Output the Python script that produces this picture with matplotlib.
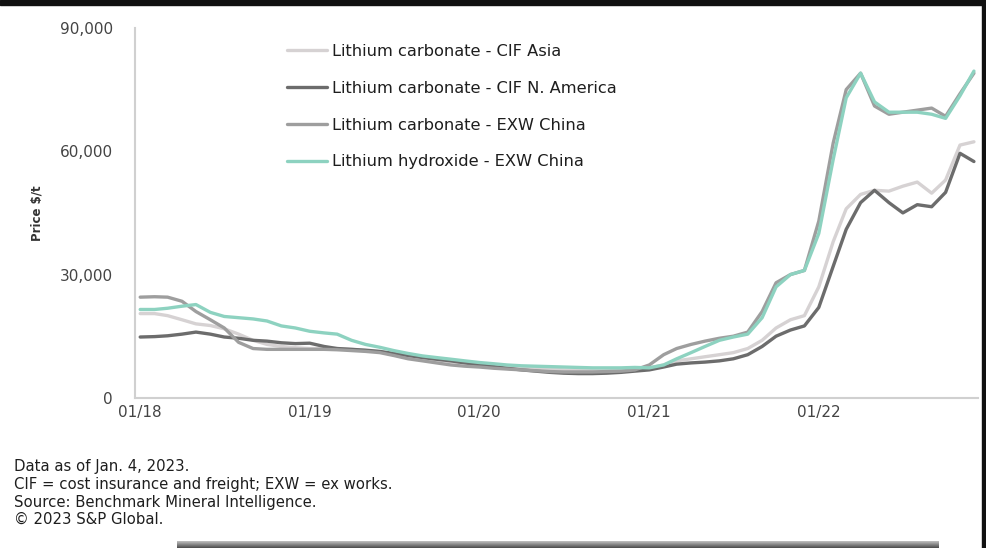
import matplotlib
matplotlib.use("Agg")
import matplotlib.pyplot as plt
import matplotlib.dates as mdates
import matplotlib.patches as mpatches
import numpy as np
import pandas as pd

# monthly prices, $/t (thousands), Jan 2018 - Dec 2022
months = pd.date_range("2018-01-01", periods=60, freq="MS")

cif_asia = [20.5, 20.5, 20.0, 19.0, 18.0, 17.6, 16.8, 15.5, 14.0, 13.0, 12.5, 12.2,
            12.0, 12.0, 12.0, 11.8, 11.5, 11.2, 10.5, 9.8, 9.5, 9.2, 8.8, 8.5,
            8.3, 8.0, 7.8, 7.5, 7.2, 7.0, 6.8, 6.7, 6.7, 6.7, 6.8, 7.0,
            7.3, 8.0, 9.0, 9.5, 10.0, 10.5, 11.0, 12.0, 14.0, 17.0, 19.0, 20.0,
            27.0, 38.0, 46.0, 49.5, 50.5, 50.3, 51.5, 52.5, 49.8, 53.0, 61.5, 62.3]

cif_na = [14.8, 14.9, 15.1, 15.5, 16.0, 15.5, 14.8, 14.5, 14.0, 13.8, 13.4, 13.2,
          13.3, 12.5, 12.0, 11.8, 11.6, 11.3, 10.8, 10.3, 9.8, 9.4, 9.0, 8.5,
          8.0, 7.6, 7.2, 6.8, 6.5, 6.2, 6.0, 5.9, 5.9, 6.0, 6.2, 6.5,
          6.8, 7.5, 8.2, 8.5, 8.7, 9.0, 9.5, 10.5, 12.5, 15.0, 16.5, 17.5,
          22.0, 32.0, 41.0, 47.5, 50.5, 47.5, 45.0, 47.0, 46.5, 50.0, 59.5, 57.5]

exw_carb = [24.5, 24.6, 24.5, 23.5, 21.0, 19.0, 17.0, 13.5, 12.0, 11.8, 11.8, 11.8,
            11.8, 11.8, 11.7, 11.5, 11.3, 11.0, 10.3, 9.5, 9.0, 8.5, 8.0, 7.7,
            7.5, 7.2, 7.0, 6.8, 6.6, 6.4, 6.3, 6.3, 6.3, 6.4, 6.5, 6.8,
            8.0, 10.5, 12.0, 13.0, 13.8, 14.5, 15.0, 16.0, 21.0, 28.0, 30.0, 31.0,
            43.0, 62.0, 75.0, 79.0, 71.0, 69.0, 69.5, 70.0, 70.5, 68.5, 74.0, 79.0]

hydroxide = [21.5, 21.5, 21.8, 22.3, 22.7, 20.8, 19.8, 19.5, 19.2, 18.7, 17.5, 17.0,
             16.2, 15.8, 15.5, 14.0, 13.0, 12.3, 11.5, 10.8, 10.2, 9.8, 9.4, 9.0,
             8.6, 8.3, 8.0, 7.8, 7.7, 7.6, 7.5, 7.4, 7.3, 7.3, 7.3, 7.4,
             7.3, 8.0, 9.5, 11.0, 12.5, 14.0, 14.8, 15.5, 19.5, 27.0, 30.0, 31.0,
             40.0, 58.0, 73.0, 79.0, 72.0, 69.5, 69.5, 69.5, 69.0, 68.0, 73.5, 79.5]

labels = ["Lithium carbonate - CIF Asia",
          "Lithium carbonate - CIF N. America",
          "Lithium carbonate - EXW China",
          "Lithium hydroxide - EXW China"]
colors = ["#d6d2d3", "#6c6c6c", "#9e9e9e", "#8dd2c0"]
tick_dates = pd.to_datetime(["2018-01-01", "2019-01-01", "2020-01-01",
                             "2021-01-01", "2022-01-01"])

fig = plt.figure(figsize=(9.86, 5.48), dpi=100)
ax = fig.add_axes([0.137, 0.274, 0.855, 0.675])

series = [cif_asia, cif_na, exw_carb, hydroxide]
for vals, lab, col in zip(series, labels, colors):
    ax.plot(months, np.array(vals) * 1000, color=col, lw=2.4, label=lab,
            solid_capstyle="round", solid_joinstyle="round")

ax.set_ylim(0, 90000)
ax.set_xlim(pd.Timestamp("2017-12-21"), pd.Timestamp("2022-12-10"))
ax.set_yticks([0, 30000, 60000, 90000])
ax.yaxis.set_major_formatter(matplotlib.ticker.FuncFormatter(lambda v, p: f"{int(v):,}"))
ax.set_xticks(tick_dates)
ax.xaxis.set_major_formatter(mdates.DateFormatter("%m/%y"))
ax.tick_params(length=0, labelsize=11, labelcolor="#444444")
ax.tick_params(axis="y", pad=16)
ax.tick_params(axis="x", pad=5)
for s in ["top", "right"]:
    ax.spines[s].set_visible(False)
for s in ["left", "bottom"]:
    ax.spines[s].set_color("#d0d0d0")
    ax.spines[s].set_linewidth(1.5)

ax.set_ylabel("Price $/t", fontsize=8.5, fontweight="bold", color="#333333", labelpad=12)

leg = ax.legend(loc="upper left", bbox_to_anchor=(0.163, 0.997), frameon=False,
                fontsize=11.7, handlelength=2.45, handletextpad=0.3, labelspacing=1.35)
for t in leg.get_texts():
    t.set_color("#1e1e1e")

notes = ["Data as of Jan. 4, 2023.",
         "CIF = cost insurance and freight; EXW = ex works.",
         "Source: Benchmark Mineral Intelligence.",
         "\u00a9 2023 S&P Global."]
for i, line in enumerate(notes):
    fig.text(0.014, 1 - (467 + i * 17.5) / 548, line, fontsize=10.7,
             color="#1e1e1e", va="center", ha="left")

# dark border pieces along the edges
fig.patches.append(mpatches.Rectangle((0, 1 - 5 / 548), 1, 5 / 548,
                                      transform=fig.transFigure, color="#111111"))
fig.patches.append(mpatches.Rectangle((982 / 986, 0), 4 / 986, 1,
                                      transform=fig.transFigure, color="#111111"))
grad = np.linspace(0.75, 0.3, 20).reshape(-1, 1)
bar_ax = fig.add_axes([177 / 986, 0, (939 - 177) / 986, 7 / 548])
bar_ax.imshow(grad, cmap="gray", vmin=0, vmax=1, aspect="auto")
bar_ax.axis("off")

fig.savefig("out.png", dpi=100)
